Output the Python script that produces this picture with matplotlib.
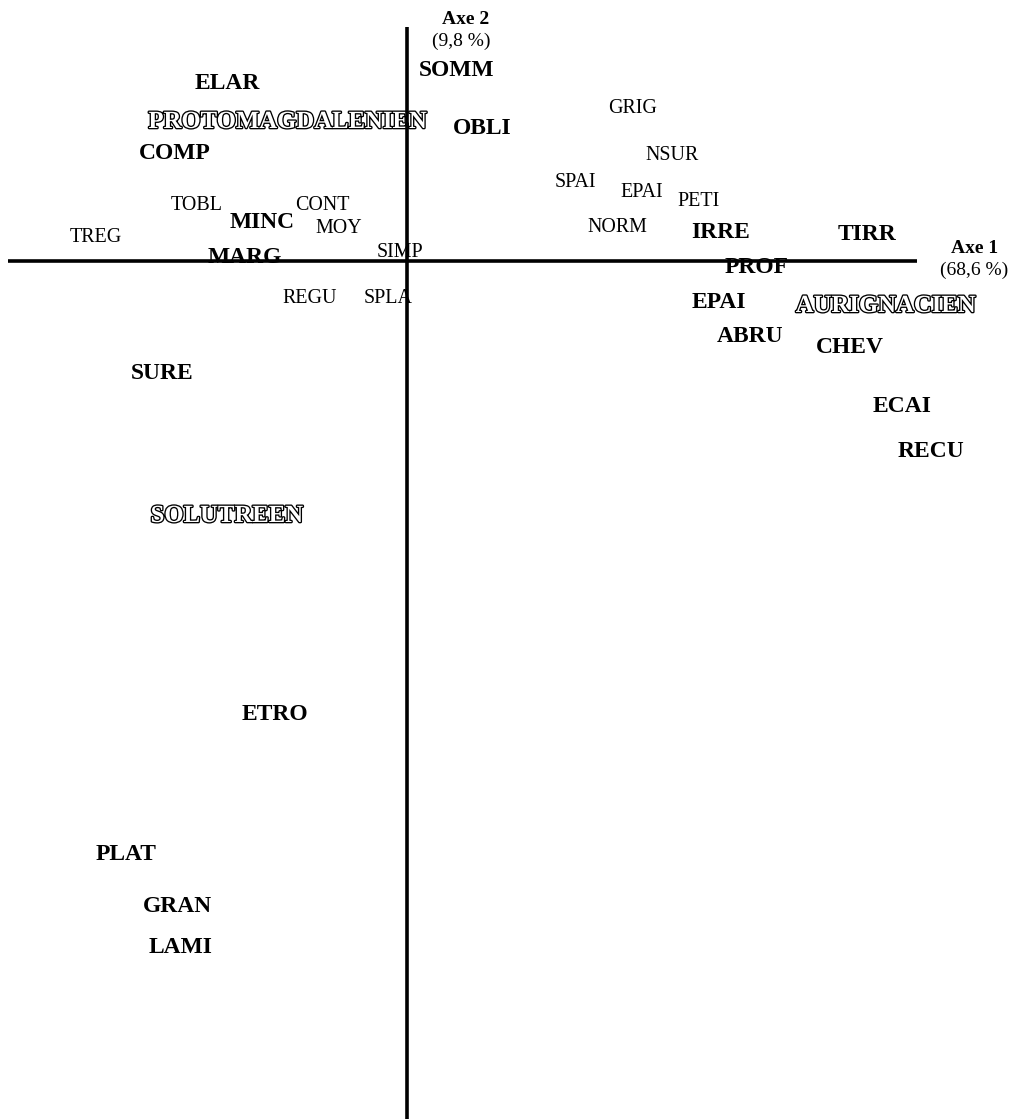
import matplotlib
matplotlib.use("Agg")
import matplotlib.pyplot as plt
import matplotlib.patheffects as pe

# Correspondence analysis coordinates of the labels (Axe 1, Axe 2)
labels = ["SOMM", "ELAR", "PROTOMAGDALENIEN", "OBLI", "COMP", "TOBL", "CONT",
          "MINC", "MOY", "TREG", "MARG", "SIMP", "REGU", "SPLA",
          "GRIG", "NSUR", "SPAI", "EPAI", "PETI", "NORM", "IRRE", "TIRR",
          "PROF", "EPAI", "AURIGNACIEN", "ABRU", "CHEV", "ECAI", "RECU",
          "SURE", "SOLUTREEN", "ETRO", "PLAT", "GRAN", "LAMI"]
axe1 = [0.50, -1.80, -1.19, 0.75, -2.32, -2.10, -0.85,
        -1.45, -0.68, -3.11, -1.62, -0.07, -0.97, -0.19,
        2.26, 2.65, 1.68, 2.35, 2.92, 2.10, 3.14, 4.60,
        3.50, 3.12, 4.79, 3.43, 4.43, 4.95, 5.24,
        -2.45, -1.80, -1.32, -2.81, -2.30, -2.26]
axe2 = [1.85, 1.72, 1.33, 1.27, 1.02, 0.51, 0.51,
        0.33, 0.28, 0.19, -0.02, 0.04, -0.42, -0.42,
        1.48, 1.01, 0.74, 0.64, 0.55, 0.29, 0.23, 0.21,
        -0.12, -0.47, -0.51, -0.81, -0.92, -1.51, -1.96,
        -1.18, -2.61, -4.59, -5.99, -6.51, -6.92]
# label type: 'r' regular (modalities), 'b' bold, 'o' outlined (industries)
kinds = ["b", "b", "o", "b", "b", "r", "r",
         "b", "r", "r", "b", "r", "r", "r",
         "r", "r", "r", "r", "r", "r", "b", "b",
         "b", "b", "o", "b", "b", "b", "b",
         "b", "o", "b", "b", "b", "b"]

axis1_title = ["Axe 1", "(68,6 %)"]
axis2_title = ["Axe 2", "(9,8 %)"]

plt.rcParams['font.family'] = ['Liberation Serif', 'DejaVu Serif']

fig = plt.figure(figsize=(10.13, 11.19), dpi=100)
ax = fig.add_axes([0, 0, 1, 1])
ax.set_xlim(-4.07, 6.06)
ax.set_ylim(-8.58, 2.61)
ax.axis("off")

# axes lines (drawn over the labels, as in the original)
ax.plot([-3.99, 5.10], [0, 0], color="black", lw=2.6, solid_capstyle="butt", zorder=5)
ax.plot([0, 0], [-8.58, 2.34], color="black", lw=2.6, solid_capstyle="butt", zorder=5)

for lab, x, y, k in zip(labels, axe1, axe2, kinds):
    if k == "r":
        ax.text(x, y, lab, ha="center", va="baseline", fontsize=14.4, color="black", zorder=3)
    elif k == "b":
        ax.text(x, y, lab, ha="center", va="baseline", fontsize=16.9,
                fontweight="bold", color="black", zorder=3)
    else:
        ax.text(x, y, lab, ha="center", va="baseline", fontsize=17.8,
                fontweight="bold", color="white", zorder=3,
                path_effects=[pe.withStroke(linewidth=1.9, foreground="black")])

# axis titles
ax.text(5.68, 0.08, axis1_title[0], ha="center", va="baseline", fontsize=14, fontweight="bold")
ax.text(5.67, -0.14, axis1_title[1], ha="center", va="baseline", fontsize=14)
ax.text(0.59, 2.37, axis2_title[0], ha="center", va="baseline", fontsize=14, fontweight="bold")
ax.text(0.54, 2.15, axis2_title[1], ha="center", va="baseline", fontsize=14)

fig.savefig("out.png", dpi=100, facecolor="white")
